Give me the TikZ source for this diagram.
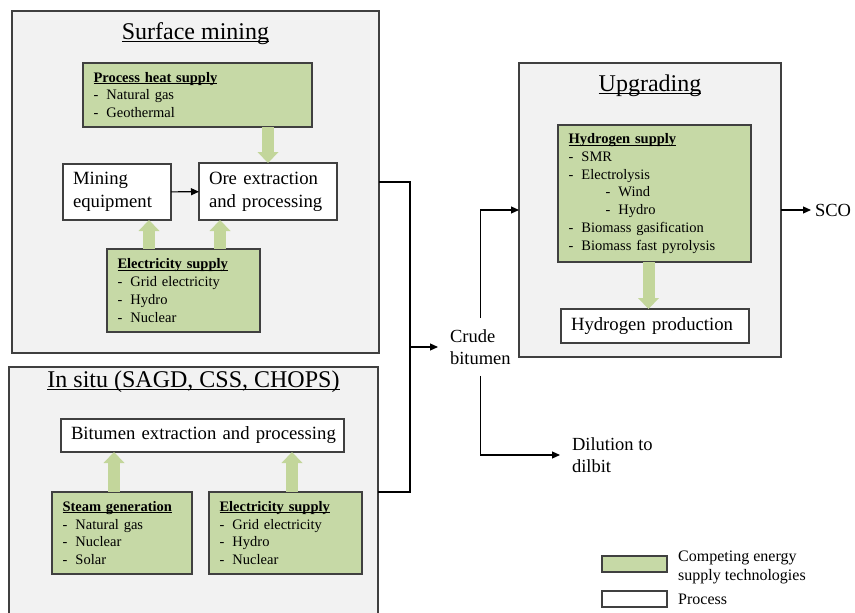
\documentclass[tikz,border=0pt]{standalone}
\usepackage{fontspec}
\setmainfont{Liberation Serif}
\usetikzlibrary{calc}
\usetikzlibrary{arrows.meta}

\definecolor{panelgray}{HTML}{F2F2F2}
\definecolor{supgreen}{HTML}{C6D9A6}
\definecolor{fatgreen}{HTML}{C3D69B}
\definecolor{edgegray}{HTML}{404040}

\newcommand{\ulin}[1]{\setbox0\hbox{#1}\rlap{\rule[-0.13em]{\wd0}{0.055em}}\box0}
\newcommand{\hd}[1]{\ulin{\textbf{#1}}}
\newcommand{\itm}[1]{\makebox[13pt][l]{-}#1}
\newcommand{\sitm}[1]{\hspace*{37pt}\makebox[13pt][l]{-}#1}

\begin{document}
\begin{tikzpicture}[x=1pt,y=-1pt,
  panel/.style={draw=edgegray,line width=1.1pt,fill=panelgray,inner sep=0pt,outer sep=0pt,anchor=north west},
  ptitle/.style={font=\fontsize{24}{29}\selectfont,inner sep=0pt,anchor=base},
  supply/.style={draw=edgegray,line width=1.1pt,fill=supgreen,anchor=north west,outer sep=0pt,align=left,inner xsep=10.5pt,inner ysep=0pt,font=\fontsize{14.5}{17.8}\selectfont},
  process/.style={draw=edgegray,line width=1.1pt,fill=white,anchor=north west,outer sep=0pt,align=left,inner xsep=10pt,inner ysep=0pt,font=\fontsize{18.7}{22.8}\selectfont},
  flowtxt/.style={align=left,outer sep=0pt,inner ysep=11pt,font=\fontsize{18.5}{22.5}\selectfont},
  legtxt/.style={align=left,inner sep=0pt,anchor=west,font=\fontsize{16}{19}\selectfont},
  wire/.style={draw=black,line width=1.1pt},
  flow/.style={wire,-{Triangle[length=8pt,width=7pt]}},
  fat/.style={draw=fatgreen,line width=12pt,-{Triangle[length=11pt,width=21pt,line width=0pt]}},
]
  % Boundary
  \path[use as bounding box] (0,0) rectangle (855,613);
  \clip (0,0) rectangle (855,613);
  % Surface mining
  \node[panel,minimum width=367pt,minimum height=342pt] (sm) at (12,11) {};
  \node[ptitle] (smt) at ([yshift=-28pt]sm.north) {\ulin{Surface mining}};
  \node[supply,text width=208pt,minimum height=64pt] (heat) at (83,63)
    {\hd{Process heat supply}\\ \itm{Natural gas}\\ \itm{Geothermal}};
  \node[process,text width=88pt,minimum height=56pt] (mine) at (63,164) {Mining\\ equipment};
  \node[process,text width=118pt,minimum height=57pt] (ore) at (199,163) {Ore extraction\\ and processing};
  \node[supply,text width=132pt,minimum height=83pt] (elsm) at (107,249)
    {\hd{Electricity supply}\\ \itm{Grid electricity}\\ \itm{Hydro}\\ \itm{Nuclear}};
  % In situ
  \node[panel,minimum width=369pt,minimum height=250pt] (is) at (9,367) {};
  \node[ptitle] (ist) at ([yshift=-20pt]is.north) {\ulin{In situ (SAGD, CSS, CHOPS)}};
  \node[process,text width=263pt,minimum height=33pt] (bit) at (61,419) {\mbox{Bitumen extraction and processing}};
  \node[supply,text width=119pt,minimum height=82pt] (steam) at (52,492)
    {\hd{Steam generation}\\ \itm{Natural gas}\\ \itm{Nuclear}\\ \itm{Solar}};
  \node[supply,text width=132pt,minimum height=82pt] (elis) at (209,492)
    {\hd{Electricity supply}\\ \itm{Grid electricity}\\ \itm{Hydro}\\ \itm{Nuclear}};
  % Upgrading
  \node[panel,minimum width=262pt,minimum height=294pt] (upg) at (519,63) {};
  \node[ptitle] (upt) at ([yshift=-28pt]upg.north) {\ulin{Upgrading}};
  \node[supply,text width=172pt,minimum height=137pt] (hsup) at (558,125)
    {\hd{Hydrogen supply}\\ \itm{SMR}\\ \itm{Electrolysis}\\ \sitm{Wind}\\ \sitm{Hydro}\\
     \itm{Biomass gasification}\\ \itm{Biomass fast pyrolysis}};
  \node[process,text width=168pt,minimum height=34pt] (hprod) at (561,309) {Hydrogen production};
  % Products
  \node[flowtxt,anchor=west,inner xsep=12pt] (crude) at (438,347) {Crude\\ bitumen};
  \node[flowtxt,anchor=west,inner xsep=12pt] (dil) at (560,455) {Dilution to\\ dilbit};
  \node[flowtxt,anchor=west,inner xsep=4pt] (sco) at (811,210) {SCO};
  % Supply arrows
  \draw[fat] (heat.south -| ore.north) -- (ore.north);
  \draw[fat] ([xshift=42pt]elsm.north west) -- ([xshift=42pt]elsm.north west |- mine.south);
  \draw[fat] ([xshift=113pt]elsm.north west) -- ([xshift=113pt]elsm.north west |- ore.south);
  \draw[fat] ([xshift=62pt]steam.north west) -- ([xshift=62pt]steam.north west |- bit.south);
  \draw[fat] ([xshift=83pt]elis.north west) -- ([xshift=83pt]elis.north west |- bit.south);
  \draw[fat] ([xshift=-6pt]hsup.south) -- ([xshift=-6pt]hsup.south |- hprod.north);
  % Flows
  \coordinate (jn) at (410,347);
  \draw[wire] (sm.east) -- (sm.east -| jn) -- (is.east -| jn) -- (is.east);
  \draw[flow] (jn) -- (crude.west);
  \draw[flow] (crude.north) |- (upg.west);
  \draw[flow] (crude.south) |- (dil.west);
  \draw[flow] (upg.east) -- (sco.west);
  \draw[flow] (mine) -- (ore);
  % Legend
  \node[draw=edgegray,line width=1.1pt,fill=supgreen,outer sep=0pt,minimum width=65pt,minimum height=16pt,anchor=north west] (lgs) at (602,556) {};
  \node[draw=edgegray,line width=1.1pt,fill=white,outer sep=0pt,minimum width=65pt,minimum height=16pt,anchor=north west] (lgp) at (602,591) {};
  \node[legtxt] (lgst) at (678,567) {Competing energy\\ supply technologies};
  \node[legtxt] (lgpt) at ([xshift=11pt]lgp.east) {Process};
\end{tikzpicture}
\end{document}
